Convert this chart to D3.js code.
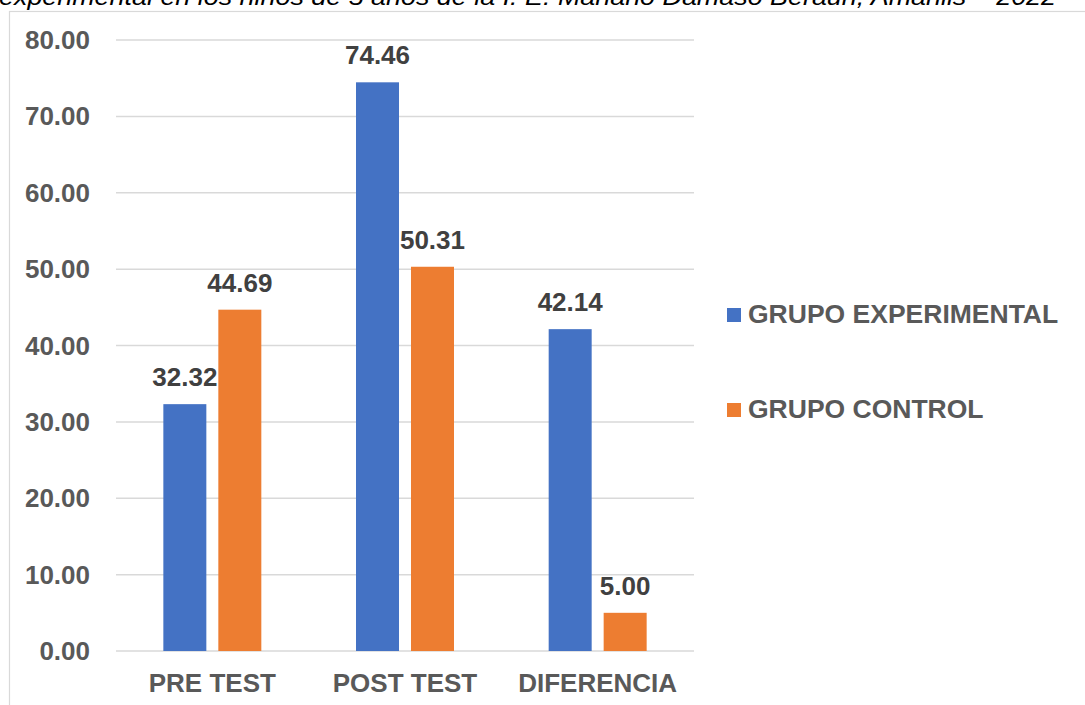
<!DOCTYPE html>
<html>
<head>
<meta charset="utf-8">
<script src="https://cdn.jsdelivr.net/npm/d3@7"></script>
<style>
  html, body { margin: 0; padding: 0; background: #fff; }
  svg { display: block; }
  text { font-family: Arial, "Liberation Sans", sans-serif; }
</style>
</head>
<body>
<svg id="chart" width="1085" height="705"></svg>
<script>
const titleText = "experimental en los niños de 5 años de la I. E. Mariano Dámaso Beraún, Amarilis – 2022";
const categories = ["PRE TEST", "POST TEST", "DIFERENCIA"];
const seriesNames = ["GRUPO EXPERIMENTAL", "GRUPO CONTROL"];
const experimental = [32.32, 74.46, 42.14];
const control = [44.69, 50.31, 5.00];
const yTicks = [0, 10, 20, 30, 40, 50, 60, 70, 80];
const colors = ["#4472C4", "#ED7D31"];

const svg = d3.select("#chart");
const W = 1085, H = 705;
const plot = { left: 116, right: 694, top: 40, bottom: 651 };

// chart border
svg.append("rect")
  .attr("x", 9.5).attr("y", 11.5)
  .attr("width", W + 20).attr("height", H + 20)
  .attr("fill", "#fff").attr("stroke", "#d9d9d9").attr("stroke-width", 1.2);

// title (clipped at top, as in the reference)
svg.append("text")
  .attr("x", -1).attr("y", 5)
  .attr("font-size", 24).attr("font-style", "italic")
  .attr("fill", "#000")
  .attr("textLength", 1057).attr("lengthAdjust", "spacingAndGlyphs")
  .text(titleText);

const y = d3.scaleLinear().domain([0, 80]).range([plot.bottom, plot.top]);
const x0 = d3.scaleBand().domain(categories).range([plot.left, plot.right]).padding(0);
const x1 = d3.scaleBand().domain(seriesNames).range([0, x0.bandwidth()])
  .paddingInner(0.218).paddingOuter(0.861);

// gridlines
svg.append("g")
  .selectAll("line").data(yTicks).join("line")
  .attr("x1", plot.left).attr("x2", plot.right)
  .attr("y1", d => y(d)).attr("y2", d => y(d))
  .attr("stroke", "#d9d9d9").attr("stroke-width", 1.5);

// y tick labels
svg.append("g")
  .selectAll("text").data(yTicks).join("text")
  .attr("x", 90).attr("y", d => y(d)).attr("dy", "0.35em")
  .attr("text-anchor", "end")
  .attr("font-size", 26).attr("font-weight", "bold").attr("fill", "#595959")
  .text(d => d.toFixed(2));

const data = categories.map((c, i) => ({
  cat: c,
  vals: [
    { s: seriesNames[0], v: experimental[i], c: colors[0] },
    { s: seriesNames[1], v: control[i], c: colors[1] }
  ]
}));

const groups = svg.append("g").selectAll("g").data(data).join("g")
  .attr("transform", d => `translate(${x0(d.cat)},0)`);

groups.selectAll("rect").data(d => d.vals).join("rect")
  .attr("x", d => x1(d.s)).attr("width", x1.bandwidth())
  .attr("y", d => y(d.v)).attr("height", d => y(0) - y(d.v))
  .attr("fill", d => d.c);

groups.selectAll("text.val").data(d => d.vals).join("text")
  .attr("class", "val")
  .attr("x", d => x1(d.s) + x1.bandwidth() / 2)
  .attr("y", d => y(d.v) - 18)
  .attr("text-anchor", "middle")
  .attr("font-size", 26).attr("font-weight", "bold").attr("fill", "#404040")
  .text(d => d.v.toFixed(2));

// category labels
svg.append("g").selectAll("text").data(categories).join("text")
  .attr("x", d => x0(d) + x0.bandwidth() / 2).attr("y", 692)
  .attr("text-anchor", "middle")
  .attr("font-size", 26).attr("font-weight", "bold").attr("fill", "#595959")
  .text(d => d);

// legend
const legend = svg.append("g").selectAll("g").data(seriesNames).join("g")
  .attr("transform", (d, i) => `translate(727,${308 + i * 95})`);
legend.append("rect").attr("width", 14).attr("height", 14)
  .attr("fill", (d, i) => colors[i]);
legend.append("text").attr("x", 21).attr("y", 15)
  .attr("font-size", 26.5).attr("font-weight", "bold").attr("fill", "#595959")
  .text(d => d);
</script>
</body>
</html>
